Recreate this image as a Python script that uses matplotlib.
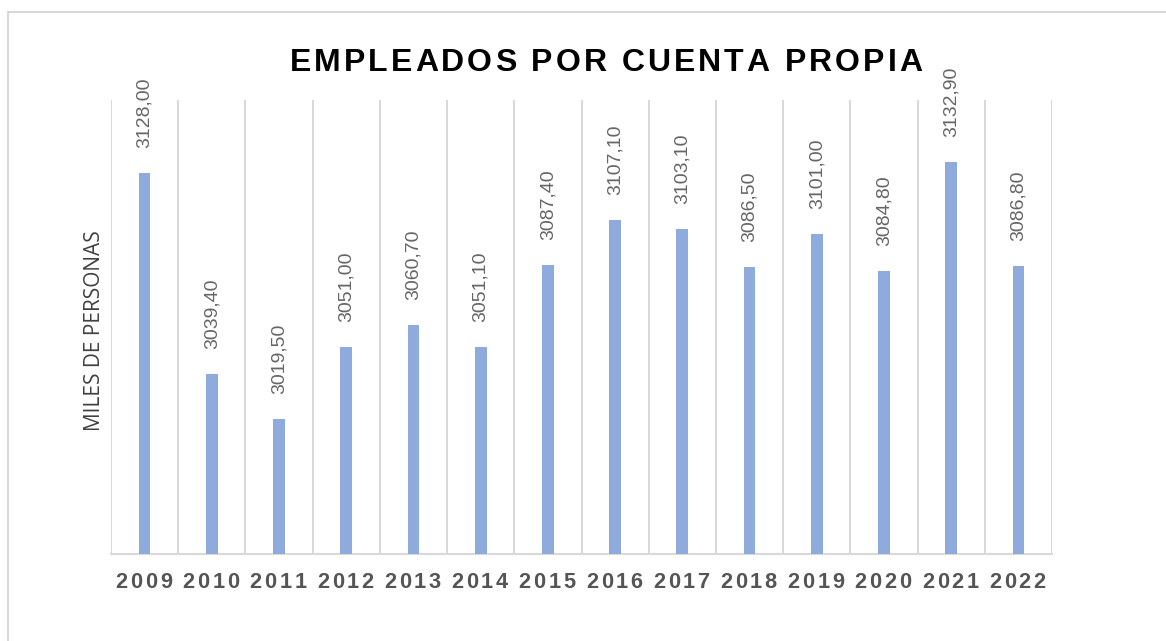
import matplotlib
matplotlib.use("Agg")
import matplotlib.pyplot as plt
from matplotlib.font_manager import FontProperties
from matplotlib.lines import Line2D

years = ["2009", "2010", "2011", "2012", "2013", "2014", "2015",
         "2016", "2017", "2018", "2019", "2020", "2021", "2022"]
values = [3128.00, 3039.40, 3019.50, 3051.00, 3060.70, 3051.10, 3087.40,
          3107.10, 3103.10, 3086.50, 3101.00, 3084.80, 3132.90, 3086.80]
title = "EMPLEADOS POR CUENTA PROPIA"
ylabel = "MILES DE PERSONAS"

W, H = 1166, 641
fig = plt.figure(figsize=(W / 100, H / 100), dpi=100)
fig.patch.set_facecolor("white")

# outer frame (left and top edges visible)
frame_c = "#d9d9d9"
fig.add_artist(Line2D([8 / W, 8 / W], [0, 1 - 12 / H], transform=fig.transFigure,
                      color=frame_c, lw=1.5))
fig.add_artist(Line2D([8 / W, 1], [1 - 12 / H, 1 - 12 / H], transform=fig.transFigure,
                      color=frame_c, lw=1.5))

left, right, top, bottom = 111, 1052, 100, 554
ax = fig.add_axes([left / W, 1 - bottom / H, (right - left) / W, (bottom - top) / H])
ax.set_xlim(-0.5, len(years) - 0.5)
ax.set_ylim(2960, 3160)

x = list(range(len(years)))
ax.bar(x, values, width=0.175, color="#8faadc", zorder=3)

for i in range(len(years) + 1):
    ax.axvline(i - 0.5, color="#d9d9d9", lw=1.5, zorder=1)

for s in ["top", "right", "left"]:
    ax.spines[s].set_visible(False)
ax.spines["bottom"].set_color("#d9d9d9")
ax.spines["bottom"].set_linewidth(1.5)
ax.set_xticks([])
ax.set_yticks([])

label_font = FontProperties(family="Liberation Sans", size=14)
for xi, v in zip(x, values):
    ax.annotate(f"{v:.2f}".replace(".", ","), (xi, v), xytext=(0, 18),
                textcoords="offset points", rotation=90, ha="center", va="bottom",
                color="#666666", fontproperties=label_font, zorder=4)

fig.text(95 / W, 1 - 331 / H, ylabel, rotation=90, ha="center", va="center",
         fontsize=15, family="Open Sans", color="#404040")

fig.canvas.draw()
renderer = fig.canvas.get_renderer()


def spaced_text(xc_px, ybase_px, s, prop, spacing, color):
    widths = [renderer.get_text_width_height_descent(c, prop, ismath=False)[0] for c in s]
    total = sum(widths) + spacing * (len(s) - 1)
    pos = xc_px - total / 2
    for c, w in zip(s, widths):
        fig.text(pos / W, 1 - ybase_px / H, c, ha="left", va="baseline",
                 fontproperties=prop, color=color)
        pos += w + spacing


title_font = FontProperties(family="Liberation Sans", weight="bold", size=23)
spaced_text(606, 71, title, title_font, 3.0, "#000000")

tick_font = FontProperties(family="Liberation Sans", weight="bold", size=15.7)
for xi, yr in zip(x, years):
    px = ax.transData.transform((xi, 2960))[0]
    spaced_text(px - 1, 588, yr, tick_font, 2.7, "#555555")

fig.savefig("out.png", dpi=100, facecolor="white")
